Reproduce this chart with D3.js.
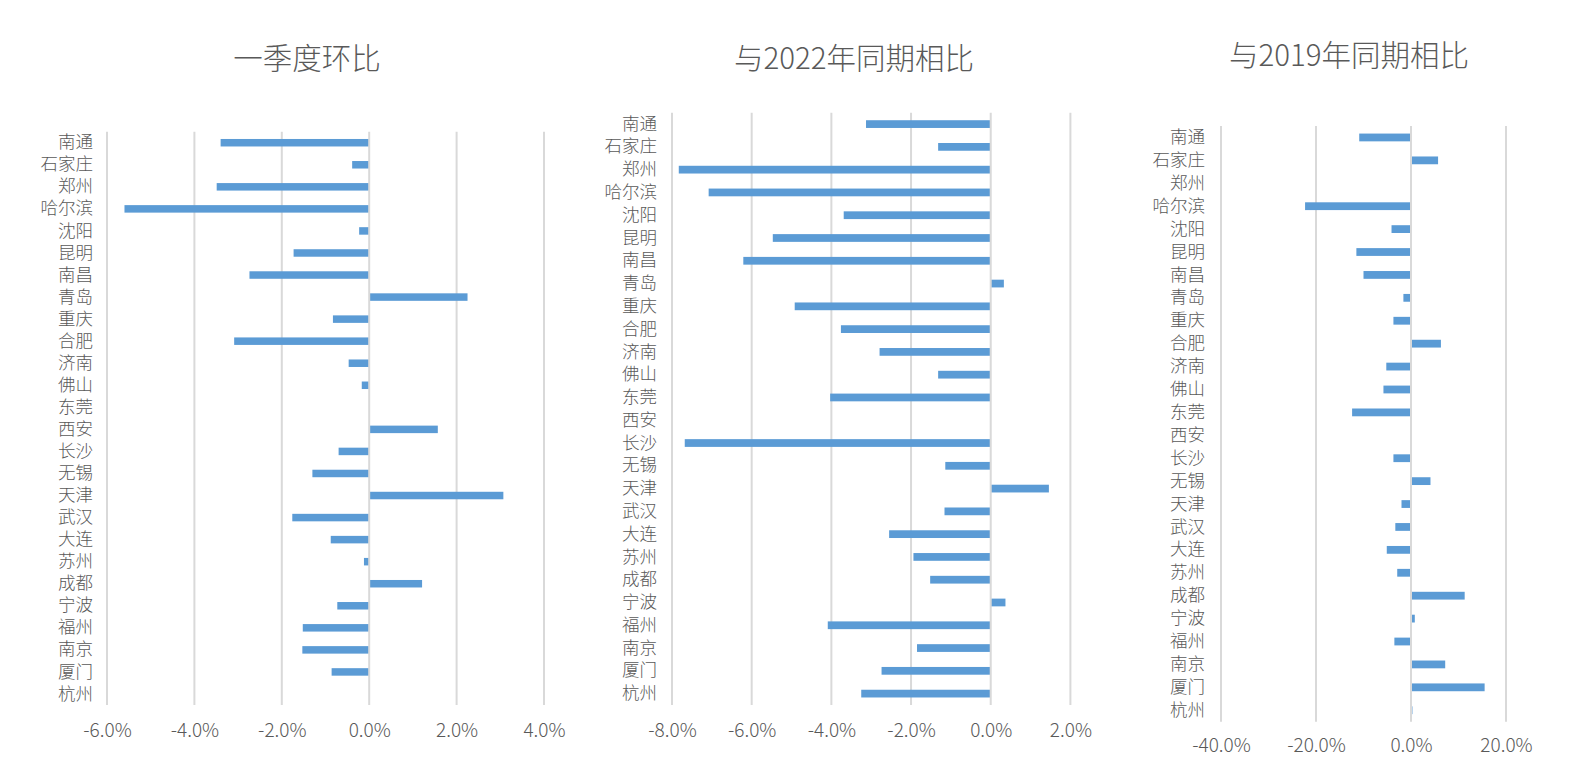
<!DOCTYPE html>
<html>
<head>
<meta charset="utf-8">
<script src="https://cdn.jsdelivr.net/npm/d3@7"></script>
<style>
  html, body { margin: 0; padding: 0; background: #fff; }
  svg { display: block; font-family: 'Noto Sans CJK SC', 'Noto Sans', sans-serif; }
</style>
</head>
<body>
<div id="svg-container"></div>
<script>
const cities = ['南通', '石家庄', '郑州', '哈尔滨', '沈阳', '昆明', '南昌', '青岛', '重庆', '合肥',
  '济南', '佛山', '东莞', '西安', '长沙', '无锡', '天津', '武汉', '大连', '苏州',
  '成都', '宁波', '福州', '南京', '厦门', '杭州']

// values in %
const qoqValues = [-3.40, -0.39, -3.49, -5.60, -0.23, -1.73, -2.74, 2.25, -0.83, -3.09,
  -0.47, -0.17, 0, 1.57, -0.70, -1.30, 3.07, -1.76, -0.88, -0.12,
  1.21, -0.73, -1.52, -1.53, -0.86, 0]
const vs2022Values = [-3.13, -1.32, -7.83, -7.08, -3.69, -5.47, -6.21, 0.33, -4.92, -3.76,
  -2.79, -1.32, -4.03, 0, -7.68, -1.14, 1.46, -1.16, -2.55, -1.94,
  -1.52, 0.37, -4.09, -1.85, -2.74, -3.25]
const vs2019Values = [-10.9, 5.7, 0, -22.3, -4.1, -11.5, -10.0, -1.6, -3.7, 6.3,
  -5.2, -5.8, -12.4, 0, -3.7, 4.1, -2.0, -3.3, -5.1, -2.9,
  11.3, 0.8, -3.5, 7.2, 15.5, 0.3]

const qoqTicks = [-6, -4, -2, 0, 2, 4]
const vs2022Ticks = [-8, -6, -4, -2, 0, 2]
const vs2019Ticks = [-40, -20, 0, 20]

const titles = ['一季度环比', '与2022年同期相比', '与2019年同期相比']

const panels = [
  { title: titles[0], values: qoqValues, ticks: qoqTicks, x0: 107, x1: 544, top: 131.7, bottom: 705, titleX: 307, titleY: 56, tickY: 25, labelPad: 14 },
  { title: titles[1], values: vs2022Values, ticks: vs2022Ticks, x0: 672, x1: 1070.4, top: 112.7, bottom: 705, titleX: 854, titleY: 56, tickY: 25, labelPad: 15 },
  { title: titles[2], values: vs2019Values, ticks: vs2019Ticks, x0: 1221, x1: 1506, top: 126, bottom: 721.7, titleX: 1349, titleY: 52.5, tickY: 23.5, labelPad: 16 },
]

const textColor = '#595959'
const gridColor = '#d9d9d9'
const barColor = '#5b9bd5'

const svg = d3.select('#svg-container')
  .append('svg')
  .attr('width', 1579)
  .attr('height', 772)
  .attr('viewBox', '0 0 1579 772')

panels.forEach(p => {
  const g = svg.append('g').attr('class', 'panel')

  const xScale = d3.scaleLinear()
    .domain(d3.extent(p.ticks))
    .range([p.x0, p.x1])

  const yScale = d3.scaleBand()
    .domain(cities)
    .range([p.top, p.bottom])
    .paddingInner(0.66)
    .paddingOuter(0.33)

  // title
  g.append('text')
    .attr('x', p.titleX)
    .attr('y', p.titleY)
    .attr('text-anchor', 'middle')
    .attr('dominant-baseline', 'central')
    .attr('fill', textColor)
    .style('font-size', '29.5px')
    .style('font-weight', 300)
    .text(p.title)

  // vertical gridlines (behind bars)
  g.selectAll('line.grid')
    .data(p.ticks.filter(t => t !== 0))
    .join('line')
    .attr('class', 'grid')
    .attr('x1', d => xScale(d))
    .attr('x2', d => xScale(d))
    .attr('y1', p.top)
    .attr('y2', p.bottom)
    .attr('stroke', gridColor)
    .attr('stroke-width', 2)

  // bars
  g.selectAll('rect.bar')
    .data(cities.map((c, i) => ({ city: c, value: p.values[i] })))
    .join('rect')
    .attr('class', 'bar')
    .attr('x', d => xScale(Math.min(0, d.value)))
    .attr('y', d => yScale(d.city))
    .attr('width', d => Math.abs(xScale(d.value) - xScale(0)))
    .attr('height', yScale.bandwidth())
    .attr('fill', barColor)

  // zero axis line on top
  g.append('line')
    .attr('class', 'zero-line')
    .attr('x1', xScale(0))
    .attr('x2', xScale(0))
    .attr('y1', p.top)
    .attr('y2', p.bottom)
    .attr('stroke', gridColor)
    .attr('stroke-width', 2)

  // x-axis tick labels
  g.append('g')
    .attr('class', 'x-axis')
    .attr('transform', `translate(0, ${p.bottom})`)
    .call(d3.axisBottom(xScale).tickValues(p.ticks).tickSize(0).tickFormat(d => `${d.toFixed(1)}%`))
    .call(ax => {
      ax.select('.domain').remove()
      ax.selectAll('.tick text')
        .attr('y', p.tickY)
        .attr('dy', '0.35em')
        .attr('fill', textColor)
        .style('font-size', '19px')
        .style('font-weight', 300)
        .style('font-family', "'Noto Sans CJK SC', sans-serif")
    })

  // category labels
  g.append('g')
    .attr('class', 'y-axis')
    .attr('transform', `translate(${p.x0}, 0)`)
    .call(d3.axisLeft(yScale).tickSize(0).tickPadding(p.labelPad))
    .call(ax => {
      ax.select('.domain').remove()
      ax.selectAll('.tick text')
        .attr('fill', textColor)
        .style('font-size', '17.5px')
        .style('font-weight', 300)
        .style('font-family', "'Noto Sans CJK SC', sans-serif")
    })
})
</script>
</body>
</html>
